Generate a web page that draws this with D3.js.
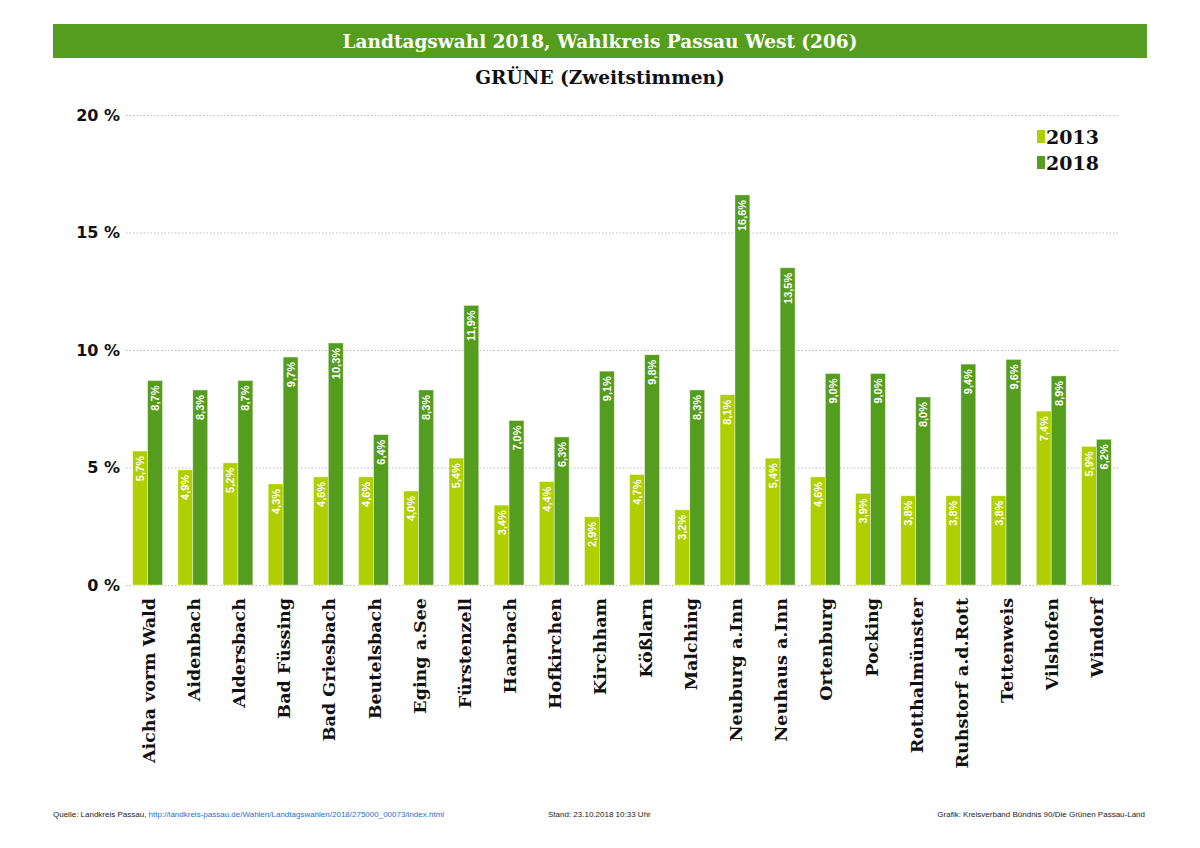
<html>
<head>
<meta charset="utf-8">
<script src="https://d3js.org/d3.v7.min.js"></script>
<style>
body {
	margin: 0;
	background: #fff;
}
</style>
</head>
<body>
<div id="chart"></div>
<script>
	var categories = ["Aicha vorm Wald", "Aidenbach", "Aldersbach", "Bad Füssing", "Bad Griesbach",
		"Beutelsbach", "Eging a.See", "Fürstenzell", "Haarbach", "Hofkirchen", "Kirchham", "Kößlarn",
		"Malching", "Neuburg a.Inn", "Neuhaus a.Inn", "Ortenburg", "Pocking", "Rotthalmünster",
		"Ruhstorf a.d.Rott", "Tettenweis", "Vilshofen", "Windorf"];
	var values2013 = [5.7, 4.9, 5.2, 4.3, 4.6, 4.6, 4.0, 5.4, 3.4, 4.4, 2.9, 4.7, 3.2, 8.1, 5.4, 4.6, 3.9, 3.8, 3.8, 3.8, 7.4, 5.9];
	var values2018 = [8.7, 8.3, 8.7, 9.7, 10.3, 6.4, 8.3, 11.9, 7.0, 6.3, 9.1, 9.8, 8.3, 16.6, 13.5, 9.0, 9.0, 8.0, 9.4, 9.6, 8.9, 6.2];
	var years = ["2013", "2018"];
	var yTicks = [0, 5, 10, 15, 20];

	var colors = ["#afcf00", "#559d1f"];
	var serif = "'DejaVu Serif', serif";
	var narrow = "'Liberation Sans Narrow', 'Liberation Sans', sans-serif";

	var W = 1200, H = 848;
	var svg = d3.select("#chart").append("svg")
		.attr("width", W)
		.attr("height", H);

	// header bar
	svg.append("rect")
		.attr("x", 53).attr("y", 24)
		.attr("width", 1094).attr("height", 34)
		.attr("fill", "#559d1f");
	svg.append("text")
		.attr("x", 600).attr("y", 48)
		.attr("text-anchor", "middle")
		.style("font-family", serif)
		.style("font-weight", "bold")
		.style("font-size", "18.5px")
		.style("fill", "#fff")
		.text("Landtagswahl 2018, Wahlkreis Passau West (206)");
	svg.append("text")
		.attr("x", 600).attr("y", 84)
		.attr("text-anchor", "middle")
		.style("font-family", serif)
		.style("font-weight", "bold")
		.style("font-size", "18.5px")
		.style("fill", "#111")
		.text("GRÜNE (Zweitstimmen)");

	var x0 = d3.scaleBand()
		.domain(categories)
		.range([125, 1119])
		.paddingInner(0.34)
		.paddingOuter(0.17);

	var x1 = d3.scaleBand()
		.domain(years)
		.range([0, x0.bandwidth()]);

	var y = d3.scaleLinear()
		.domain([0, 20])
		.range([585, 115]);

	// grid + y labels
	var yAxis = svg.append("g")
		.attr("transform", "translate(126,0)")
		.call(d3.axisLeft(y).tickValues(yTicks).tickSize(-994).tickFormat(d => d + " %"));
	yAxis.select(".domain").remove();
	yAxis.selectAll(".tick line")
		.attr("stroke", "#bbb")
		.attr("stroke-width", 1.2)
		.attr("stroke-dasharray", "1.5,2");
	yAxis.selectAll(".tick text")
		.attr("x", -6)
		.style("font-family", "'DejaVu Sans', sans-serif")
		.style("font-weight", "bold")
		.style("font-size", "16px")
		.style("fill", "#111");

	var data = categories.map((c, i) => ({ name: c, "2013": values2013[i], "2018": values2018[i] }));

	var groups = svg.selectAll("g.grp")
		.data(data)
		.enter().append("g")
		.attr("class", "grp")
		.attr("transform", d => "translate(" + x0(d.name) + ",0)");

	var bars = groups.selectAll("g.bar")
		.data(d => years.map(k => ({ key: k, value: d[k] })))
		.enter().append("g")
		.attr("class", "bar");

	bars.append("rect")
		.attr("x", d => x1(d.key))
		.attr("y", d => y(d.value))
		.attr("width", x1.bandwidth())
		.attr("height", d => y(0) - y(d.value))
		.attr("fill", (d, i) => colors[i])
		.attr("stroke", "rgba(255,255,255,0.5)")
		.attr("stroke-width", 0.8);

	bars.append("text")
		.attr("transform", d => "translate(" + (x1(d.key) + x1.bandwidth() / 2 + 4) + "," + (y(d.value) + 5) + ") rotate(-90)")
		.attr("text-anchor", "end")
		.style("font-family", narrow)
		.style("font-weight", "bold")
		.style("font-size", "11px")
		.style("fill", "#fff")
		.text(d => d3.format(".1f")(d.value).replace(".", ",") + "%");

	// x labels
	var xAxis = svg.append("g")
		.attr("transform", "translate(0,585)")
		.call(d3.axisBottom(x0).tickSize(0).tickPadding(0));
	xAxis.select(".domain").remove();
	xAxis.selectAll(".tick text")
		.attr("transform", "translate(7,13) rotate(-90)")
		.attr("text-anchor", "end")
		.attr("dy", 0)
		.attr("x", 0).attr("y", 0)
		.style("font-family", serif)
		.style("font-weight", "bold")
		.style("font-size", "17.5px")
		.style("fill", "#111");

	// legend
	var legend = svg.append("g");
	years.forEach(function(k, i) {
		legend.append("rect")
			.attr("x", 1037).attr("y", 130 + i * 26)
			.attr("width", 8).attr("height", 13)
			.attr("fill", colors[i]);
		legend.append("text")
			.attr("x", 1046).attr("y", 144 + i * 26)
			.style("font-family", serif)
			.style("font-weight", "bold")
			.style("font-size", "19px")
			.style("fill", "#111")
			.text(k);
	});

	// footer
	var foot = svg.append("text")
		.attr("x", 53).attr("y", 817)
		.style("font-family", "'Liberation Sans Narrow', 'Liberation Sans', sans-serif")
		.style("font-size", "8px")
		.style("fill", "#222");
	foot.append("tspan").text("Quelle: Landkreis Passau, ");
	foot.append("tspan").style("fill", "#2a6fc9")
		.text("http://landkreis-passau.de/Wahlen/Landtagswahlen/2018/275000_00073/index.html");
	svg.append("text")
		.attr("x", 548).attr("y", 817)
		.style("font-family", "'Liberation Sans Narrow', 'Liberation Sans', sans-serif")
		.style("font-size", "8px")
		.style("fill", "#222")
		.text("Stand: 23.10.2018 10:33 Uhr");
	svg.append("text")
		.attr("x", 1145).attr("y", 817)
		.attr("text-anchor", "end")
		.style("font-family", "'Liberation Sans Narrow', 'Liberation Sans', sans-serif")
		.style("font-size", "8px")
		.style("fill", "#222")
		.text("Grafik: Kreisverband Bündnis 90/Die Grünen Passau-Land");
</script>
</body>
</html>
